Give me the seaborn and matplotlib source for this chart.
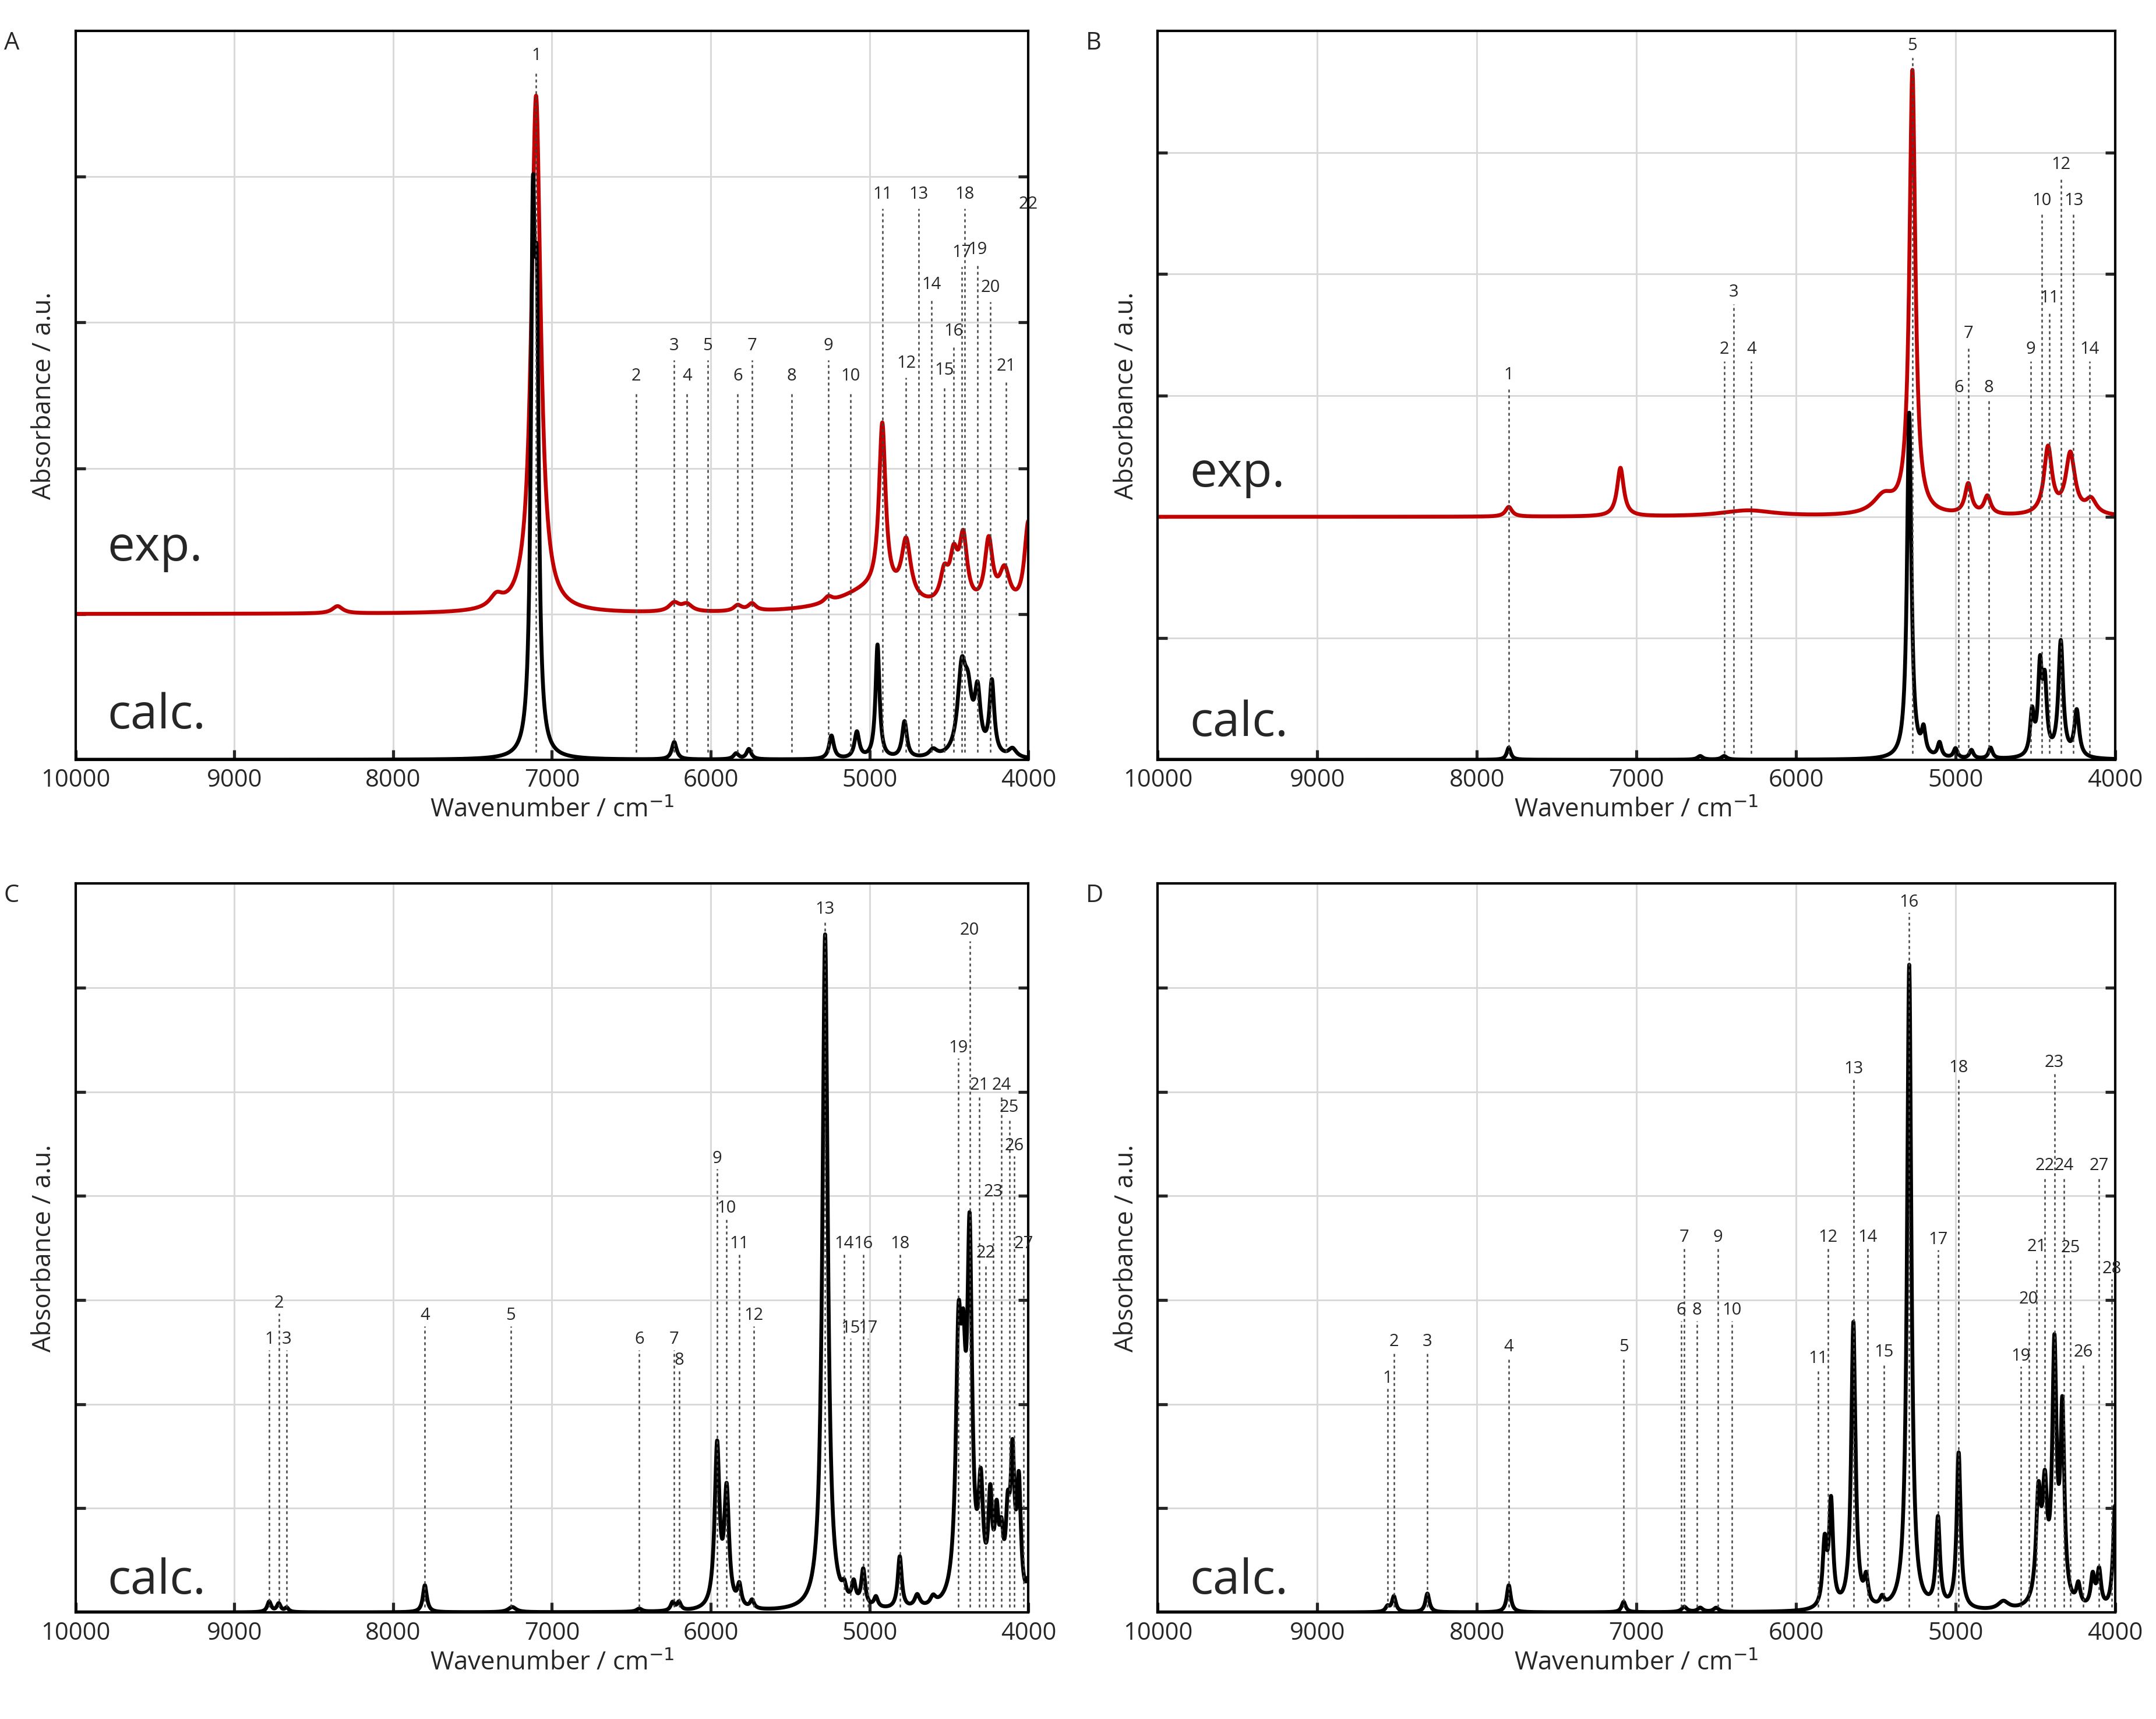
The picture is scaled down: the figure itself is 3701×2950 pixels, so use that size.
import numpy as np
import pandas as pd
import matplotlib.pyplot as plt
import seaborn as sns

# ---- peak tables (position cm-1, height a.u., half width cm-1) ----
a_exp_base = 1.0
a_exp_pos = [8350, 7350, 7100, 6230, 6150, 5830, 5740, 5260, 5000, 4920, 4770, 4530, 4470, 4410, 4250, 4150, 4000]
a_exp_amp = [0.05, 0.08, 3.55, 0.06, 0.05, 0.04, 0.05, 0.04, 0.15, 1.15, 0.4, 0.2, 0.3, 0.45, 0.45, 0.25, 0.6]
a_exp_wid = [40, 50, 35, 40, 40, 30, 30, 30, 250, 25, 35, 30, 30, 30, 30, 40, 30]
a_calc_pos = [7120, 7095, 6230, 5840, 5760, 5240, 5080, 4950, 4780, 4600, 4420, 4380, 4320, 4230, 4100]
a_calc_amp = [3.3, 2.6, 0.12, 0.04, 0.07, 0.16, 0.18, 0.78, 0.25, 0.05, 0.55, 0.35, 0.4, 0.5, 0.06]
a_calc_wid = [15, 15, 18, 20, 18, 18, 18, 15, 18, 30, 30, 30, 22, 18, 30]
a_lab = list(range(1, 23))
a_lab_x = [7100, 6470, 6230, 6150, 6020, 5830, 5740, 5490, 5260, 5120, 4920, 4770, 4690, 4610, 4530, 4470,
           4420, 4400, 4320, 4240, 4140, 4000]
a_lab_y = [4.83, 2.63, 2.84, 2.63, 2.84, 2.63, 2.84, 2.63, 2.84, 2.63, 3.88, 2.72, 3.88, 3.26, 2.67, 2.94,
           3.48, 3.88, 3.50, 3.24, 2.70, 3.81]

b_exp_base = 2.0
b_exp_pos = [7800, 7100, 6300, 5450, 5270, 4920, 4800, 4420, 4280, 4150]
b_exp_amp = [0.08, 0.4, 0.05, 0.15, 3.65, 0.25, 0.15, 0.55, 0.5, 0.12]
b_exp_wid = [25, 25, 200, 80, 22, 25, 25, 30, 35, 40]
b_calc_pos = [7800, 6600, 6450, 5290, 5200, 5100, 5000, 4900, 4780, 4520, 4470, 4440, 4340, 4240]
b_calc_amp = [0.1, 0.03, 0.03, 2.85, 0.2, 0.12, 0.08, 0.07, 0.09, 0.35, 0.7, 0.55, 0.95, 0.38]
b_calc_wid = [15, 20, 20, 16, 15, 15, 15, 15, 15, 15, 15, 15, 18, 18]
b_lab = list(range(1, 15))
b_lab_x = [7800, 6450, 6390, 6280, 5270, 4980, 4920, 4790, 4530, 4460, 4410, 4340, 4260, 4160]
b_lab_y = [3.17, 3.38, 3.85, 3.38, 5.88, 3.06, 3.51, 3.06, 3.38, 4.60, 3.80, 4.90, 4.60, 3.38]

c_calc_pos = [8780, 8720, 8670, 7800, 7250, 6450, 6240, 6200, 5960, 5900, 5820, 5740, 5280, 5160, 5100, 5040,
              4960, 4810, 4700, 4600, 4440, 4410, 4370, 4300, 4240, 4200, 4170, 4130, 4100, 4060, 4000]
c_calc_amp = [0.1, 0.08, 0.04, 0.26, 0.05, 0.03, 0.08, 0.08, 1.55, 1.1, 0.2, 0.08, 6.5, 0.12, 0.2, 0.35,
              0.1, 0.5, 0.12, 0.08, 2.3, 1.6, 3.3, 1.0, 0.9, 0.7, 0.5, 0.7, 1.3, 1.1, 0.2]
c_calc_wid = [15, 15, 15, 15, 30, 20, 15, 15, 18, 18, 15, 15, 20, 15, 15, 15, 15, 15, 20, 20, 20, 18, 18,
              18, 15, 15, 15, 15, 15, 15, 15]
c_lab = list(range(1, 28))
c_lab_x = [8780, 8720, 8670, 7800, 7260, 6450, 6230, 6200, 5960, 5900, 5820, 5730, 5280, 5160, 5120, 5040,
           5010, 4810, 4440, 4370, 4310, 4270, 4220, 4170, 4120, 4090, 4030]
c_lab_y = [2.62, 2.97, 2.62, 2.85, 2.85, 2.62, 2.62, 2.42, 4.36, 3.88, 3.54, 2.85, 6.75, 3.54, 2.73, 3.54,
           2.73, 3.54, 5.42, 6.55, 5.06, 3.45, 4.04, 5.06, 4.85, 4.48, 3.54]

d_calc_pos = [8560, 8520, 8310, 7800, 7080, 6700, 6600, 6500, 5820, 5780, 5640, 5560, 5460, 5290, 5110,
              4980, 4700, 4480, 4440, 4380, 4330, 4230, 4140, 4100, 4000]
d_calc_amp = [0.05, 0.15, 0.18, 0.26, 0.1, 0.05, 0.04, 0.04, 0.6, 1.0, 2.75, 0.25, 0.08, 6.2, 0.85,
              1.5, 0.08, 1.0, 1.0, 2.4, 1.8, 0.2, 0.3, 0.35, 1.0]
d_calc_wid = [15, 15, 15, 15, 15, 20, 20, 20, 15, 15, 16, 15, 15, 16, 15, 15, 40, 18, 18, 16, 15, 15,
              15, 15, 15]
d_lab = list(range(1, 29))
d_lab_x = [8560, 8520, 8310, 7800, 7080, 6720, 6700, 6620, 6490, 6400, 5860, 5800, 5640, 5550, 5450, 5290,
           5110, 4980, 4590, 4540, 4490, 4440, 4380, 4320, 4280, 4200, 4100, 4020]
d_lab_y = [2.25, 2.60, 2.60, 2.55, 2.55, 2.90, 3.60, 2.90, 3.60, 2.90, 2.44, 3.60, 5.22, 3.60, 2.50, 6.82,
           3.58, 5.23, 2.46, 3.01, 3.51, 4.29, 5.28, 4.29, 3.50, 2.50, 4.29, 3.30]

RED = "#c00000"
x = np.linspace(4000, 10000, 6001)


def spectrum(pos, amp, wid, base=0.0):
    y = np.full_like(x, base)
    for p, a, w in zip(pos, amp, wid):
        y += a * w**2 / ((x - p) ** 2 + w**2)
    return y


sns.set_theme(style="white")
plt.rcParams['font.family'] = ['Open Sans', 'DejaVu Sans']

fig = plt.figure(figsize=(3701 / 300, 2950 / 300), dpi=300)
rects = [[0.035, 0.558, 0.442, 0.424], [0.537, 0.558, 0.444, 0.424],
         [0.035, 0.062, 0.442, 0.424], [0.537, 0.062, 0.444, 0.424]]
panels = [
    ("A", 5, (a_exp_pos, a_exp_amp, a_exp_wid, a_exp_base), (a_calc_pos, a_calc_amp, a_calc_wid),
     a_lab, a_lab_x, a_lab_y, (4.0, 1.45)),
    ("B", 6, (b_exp_pos, b_exp_amp, b_exp_wid, b_exp_base), (b_calc_pos, b_calc_amp, b_calc_wid),
     b_lab, b_lab_x, b_lab_y, (4.0, 2.35)),
    ("C", 7, None, (c_calc_pos, c_calc_amp, c_calc_wid), c_lab, c_lab_x, c_lab_y, None),
    ("D", 7, None, (d_calc_pos, d_calc_amp, d_calc_wid), d_lab, d_lab_x, d_lab_y, None),
]

for rect, (letter, ytop, exp, calc, labs, lx, ly, exp_txt) in zip(rects, panels):
    ax = fig.add_axes(rect)
    yc = spectrum(*calc)
    if exp is not None:
        ye = spectrum(*exp)
        sns.lineplot(data=pd.DataFrame({"x": x, "y": ye}), x="x", y="y", ax=ax, color=RED, lw=1.6)
    sns.lineplot(data=pd.DataFrame({"x": x, "y": yc}), x="x", y="y", ax=ax, color="black", lw=1.6)
    for n, px, py in zip(labs, lx, ly):
        ax.plot([px, px], [0.05, py - 0.1], ls=(0, (2, 2)), color="#444444", lw=0.6)
        ax.text(px, py, str(n), ha="center", va="center", fontsize=7)
    ax.set_xlim(10000, 4000)
    ax.set_ylim(0, ytop)
    ax.set_xticks(range(4000, 10001, 1000))
    ax.set_yticks(range(1, ytop))
    ax.set_yticklabels([])
    ax.grid(True, color="#d9d9d9", lw=0.7)
    ax.tick_params(axis="both", direction="in", length=4, labelsize=10, left=True, right=True, bottom=True)
    for s in ax.spines.values():
        s.set_color("black")
        s.set_linewidth(1.0)
    ax.set_xlabel("Wavenumber / cm$^{-1}$", fontsize=10.5, labelpad=2)
    ax.set_ylabel("Absorbance / a.u.", fontsize=10.5, labelpad=4)
    ax.text(9800, 0.3, "calc.", fontsize=20, va="center")
    if exp_txt is not None:
        ax.text(9800, exp_txt[1], "exp.", fontsize=20, va="center")
    ax.text(-0.075, 1.0, letter, transform=ax.transAxes, fontsize=10, va="top")

fig.savefig("out.png", dpi=300)
